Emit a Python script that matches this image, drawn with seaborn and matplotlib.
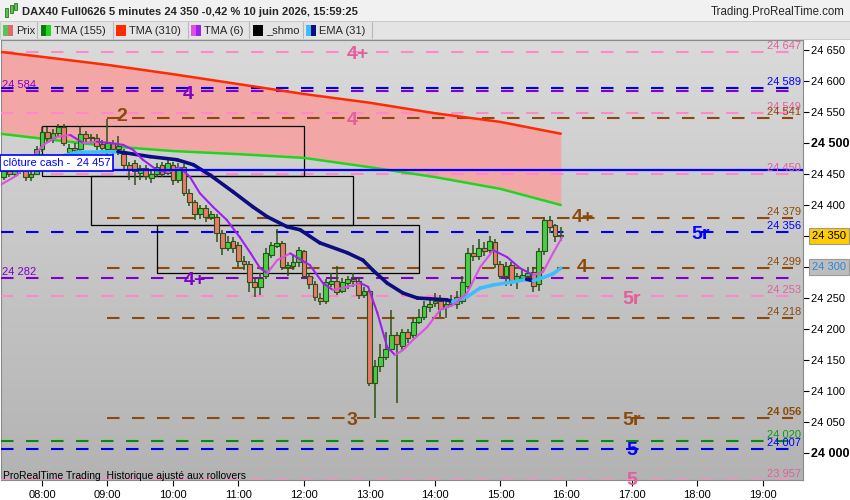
import numpy as np
import pandas as pd
import matplotlib
matplotlib.use("Agg")
import matplotlib.pyplot as plt
import seaborn as sns
from matplotlib.collections import LineCollection
from matplotlib.patches import Rectangle
from matplotlib.colors import LinearSegmentedColormap

sns.set_theme(style="white")
plt.rcParams['font.family'] = ['Liberation Sans', 'DejaVu Sans']

# ---------------- data ----------------
candle_times = pd.date_range("2026-06-10 07:25", "2026-06-10 15:55", freq="5min")
opens = [24445, 24455, 24450, 24462, 24458, 24445, 24450, 24490, 24518, 24508,
         24516, 24526, 24486, 24492, 24490, 24515, 24508, 24508, 24498, 24490,
         24500, 24490, 24482, 24465, 24467, 24452, 24460, 24443, 24450, 24465,
         24452, 24465, 24440, 24462, 24420, 24405, 24385, 24395, 24380, 24380,
         24355, 24330, 24342, 24335, 24310, 24305, 24275, 24268, 24285, 24320,
         24334, 24338, 24300, 24302, 24308, 24325, 24285, 24272, 24250, 24245,
         24272, 24277, 24262, 24274, 24280, 24278, 24255, 24262, 24113, 24140,
         24155, 24168, 24190, 24172, 24195, 24190, 24212, 24220, 24235, 24242,
         24245, 24235, 24240, 24240, 24245, 24270, 24322, 24318, 24330, 24328,
         24340, 24305, 24285, 24303, 24277, 24283, 24285, 24292, 24272, 24325,
         24375, 24367, 24350]
highs = [24462, 24465, 24470, 24475, 24462, 24458, 24495, 24525, 24525, 24522,
         24530, 24530, 24498, 24500, 24525, 24520, 24515, 24515, 24505, 24539,
         24505, 24512, 24490, 24470, 24472, 24465, 24465, 24455, 24468, 24470,
         24475, 24470, 24468, 24466, 24425, 24408, 24400, 24400, 24390, 24385,
         24360, 24350, 24348, 24340, 24318, 24310, 24280, 24290, 24330, 24340,
         24361, 24342, 24308, 24320, 24332, 24328, 24290, 24278, 24258, 24280,
         24290, 24302, 24282, 24285, 24290, 24282, 24268, 24265, 24150, 24175,
         24195, 24231, 24195, 24200, 24200, 24220, 24232, 24245, 24248, 24258,
         24255, 24250, 24255, 24262, 24285, 24330, 24335, 24345, 24340, 24350,
         24345, 24310, 24308, 24308, 24290, 24295, 24300, 24300, 24330, 24380,
         24382, 24370, 24365]
lows = [24440, 24445, 24445, 24450, 24438, 24438, 24448, 24485, 24502, 24500,
        24510, 24495, 24480, 24482, 24485, 24500, 24500, 24488, 24488, 24480,
        24480, 24480, 24455, 24440, 24432, 24440, 24440, 24435, 24445, 24445,
        24448, 24432, 24435, 24415, 24398, 24375, 24378, 24372, 24375, 24340,
        24320, 24325, 24322, 24300, 24295, 24260, 24252, 24255, 24280, 24315,
        24330, 24295, 24285, 24295, 24300, 24280, 24265, 24245, 24238, 24240,
        24268, 24255, 24258, 24265, 24268, 24248, 24250, 24108, 24056, 24130,
        24150, 24165, 24080, 24165, 24178, 24185, 24208, 24215, 24228, 24235,
        24220, 24218, 24235, 24232, 24240, 24265, 24310, 24312, 24318, 24322,
        24298, 24280, 24270, 24270, 24265, 24275, 24278, 24260, 24262, 24320,
        24355, 24340, 24342]
closes = [24455, 24450, 24462, 24458, 24445, 24450, 24490, 24518, 24508, 24516,
          24525, 24500, 24492, 24488, 24515, 24508, 24510, 24495, 24492, 24500,
          24490, 24495, 24465, 24458, 24455, 24460, 24447, 24450, 24462, 24450,
          24467, 24440, 24462, 24420, 24405, 24385, 24395, 24380, 24385, 24355,
          24330, 24340, 24330, 24310, 24305, 24275, 24268, 24282, 24322, 24335,
          24338, 24300, 24303, 24308, 24327, 24285, 24272, 24252, 24245, 24275,
          24277, 24260, 24275, 24280, 24278, 24255, 24262, 24113, 24140, 24155,
          24168, 24190, 24175, 24195, 24185, 24212, 24220, 24237, 24240, 24245,
          24232, 24240, 24245, 24252, 24275, 24322, 24318, 24330, 24325, 24342,
          24305, 24285, 24302, 24277, 24285, 24287, 24290, 24270, 24325, 24375,
          24365, 24350, 24350]

# moving averages, time in hours
ma_hours = [7.36, 8.0, 9.0, 10.0, 11.0, 12.0, 13.0, 14.0, 15.0, 15.92]
tma155 = [24515, 24507, 24495, 24487, 24482, 24476, 24461, 24445, 24426, 24400]
tma310 = [24647, 24639, 24626, 24611, 24595, 24579, 24565, 24548, 24534, 24515]

tma6_hours = [7.36, 7.62, 8.02, 8.23, 8.43, 8.63, 8.84, 9.04, 9.24, 9.39,
              9.54, 9.76, 9.91, 10.11, 10.26, 10.41, 10.61, 10.82, 11.02, 11.18,
              11.33, 11.44, 11.59, 11.79, 12.09, 12.29, 12.44, 12.66, 12.86, 12.98,
              13.12, 13.27, 13.39, 13.51, 13.66, 13.88, 14.08, 14.28, 14.49, 14.69,
              14.89, 15.10, 15.30, 15.50, 15.65, 15.80, 15.94]
tma6 = [24432, 24448, 24497, 24510, 24513, 24500, 24502, 24500, 24497, 24489,
        24473, 24456, 24453, 24460, 24445, 24419, 24397, 24376, 24348, 24323,
        24298, 24290, 24311, 24322, 24303, 24274, 24263, 24268, 24274, 24268,
        24226, 24171, 24158, 24166, 24182, 24203, 24231, 24239, 24258, 24300,
        24327, 24316, 24298, 24287, 24292, 24322, 24348]

ema_hours = [8.28, 8.53, 9.16, 9.65, 10.06, 10.31, 10.57, 10.92, 11.22, 11.44,
             11.74, 11.94, 12.24, 12.66, 12.90, 13.05, 13.27, 13.51, 13.73, 14.18,
             14.27, 14.49, 14.69, 14.89, 15.19, 15.40, 15.50, 15.65, 15.80, 15.92]
ema31 = [24478, 24485, 24486, 24478, 24473, 24465, 24448, 24421, 24397, 24381,
         24365, 24360, 24339, 24323, 24311, 24295, 24274, 24258, 24250, 24247,
         24244, 24252, 24266, 24271, 24276, 24280, 24278, 24283, 24289, 24298]

# horizontal levels
level_values = [24647, 24589, 24584, 24549, 24541, 24450, 24379, 24356, 24299,
                24282, 24253, 24218, 24056, 24020, 24007, 23957]
level_kinds = ['pink', 'blue', 'purple', 'pink', 'brown', 'pink', 'brown', 'blue',
               'brown', 'purple', 'pink', 'brown', 'brown', 'green', 'blue', 'pink']
left_labelled = [24584, 24282]

zone_texts = ["4+", "4", "4", "2", "4+", "5r", "4", "4+", "5r", "3", "5r", "5", "5"]
zone_kinds = ['pink', 'purple', 'pink', 'brown', 'brown', 'blue', 'brown', 'purple',
              'pink', 'brown', 'brown', 'blue', 'pink']
zone_hours = [12.82, 10.23, 12.73, 9.22, 16.26, 18.05, 16.24, 10.34, 17.0, 12.73, 17.0, 17.0, 17.0]
zone_levels = [24647, 24582, 24540, 24547, 24384, 24356, 24303, 24282, 24252, 24056, 24056, 24008, 23960]

# boxes (_shmo)
box_start = [8.0, 8.75, 9.75]
box_end = [12.0, 12.75, 13.75]
box_low = [24447, 24368, 24290]
box_high = [24527, 24447, 24368]

cash_close = 24457
last_price = 24350
ema_last_label = 24300

# ---------------- style ----------------
line_col = {'pink': '#ff88c8', 'brown': '#8b4a0b', 'blue': '#0000ee',
            'purple': '#7f00c8', 'green': '#0a8a0a'}
text_col = {'pink': '#e0609a', 'brown': '#8b4a0b', 'blue': '#0000ff',
            'purple': '#7f00c8', 'green': '#119911'}

W_PX, H_PX = 850, 500
def hx(px):
    return 8 + (px - 42) / 65.5
def vy(py):
    return 24000 + (453 - py) / 0.62

fig = plt.figure(figsize=(8.5, 5), dpi=100)
fig.patch.set_facecolor('white')
ax = fig.add_axes([1 / W_PX, 20 / H_PX, 802 / W_PX, 440 / H_PX])
x0, x1 = hx(1), hx(803)
y0, y1 = vy(480), vy(40)
ax.set_xlim(x0, x1)
ax.set_ylim(y0, y1)

# gradient background
cmap = LinearSegmentedColormap.from_list('bg', ['#dadada', '#b3b3b3'])
ax.imshow(np.linspace(0, 1, 256).reshape(-1, 1), extent=[x0, x1, y0, y1],
          aspect='auto', cmap=cmap, origin='upper', zorder=0)

# MA band
ma_df = pd.DataFrame({'h': ma_hours, 'tma155': tma155, 'tma310': tma310})
ax.fill_between(ma_df['h'], ma_df['tma155'], ma_df['tma310'], color='#f2a6a6', lw=0, zorder=1)
sns.lineplot(data=ma_df, x='h', y='tma310', color='#ff2a00', lw=1.8, ax=ax, zorder=5)
sns.lineplot(data=ma_df, x='h', y='tma155', color='#1fd61f', lw=1.8, ax=ax, zorder=5)

# levels
for v, k in zip(level_values, level_kinds):
    start = 9.0 if k == 'brown' else x0
    ax.plot([start, hx(793)], [v, v], color=line_col[k], lw=1.5,
            dashes=(6, 6), zorder=3)
    lab = f"{v // 1000} {v % 1000:03d}"
    if v in left_labelled:
        ax.text(hx(2), v + 4.5, lab, color=text_col[k], fontsize=8,
                ha='left', va='baseline', zorder=8)
    else:
        ax.text(hx(801), v + 4.5, lab, color=text_col[k], fontsize=8,
                ha='right', va='baseline', zorder=8,
                fontweight='bold' if v == 24056 else 'normal')

for t, k, h, v in zip(zone_texts, zone_kinds, zone_hours, zone_levels):
    ax.text(h, v - 4, t, color=text_col[k], fontsize=14, fontweight='bold',
            ha='center', va='center', zorder=8)

# boxes
for s, e, lo, hi in zip(box_start, box_end, box_low, box_high):
    ax.add_patch(Rectangle((s, lo), e - s, hi - lo, fill=False, ec='black', lw=0.9, zorder=4))

# candles
ch = candle_times.hour + candle_times.minute / 60
o = np.array(opens); c = np.array(closes); hi = np.array(highs); lo = np.array(lows)
ax.vlines(ch, lo, hi, color='#2a5216', lw=1.1, zorder=6)
up = c >= o
body_w = 4.8 / 65.5
bottoms = np.minimum(o, c)
heights = np.maximum(np.abs(c - o), 1.5)
ax.bar(ch[up], heights[up], bottom=bottoms[up], width=body_w, color='#46cf46',
       edgecolor='#2a5216', lw=0.8, zorder=6)
ax.bar(ch[~up], heights[~up], bottom=bottoms[~up], width=body_w, color='#ea7a6c',
       edgecolor='#2a5216', lw=0.8, zorder=6)

# two-colour lines
def slope_line(xs, ys, c_up, c_dn, lw, z):
    xs = np.asarray(xs); ys = np.asarray(ys)
    segs = [[(xs[i], ys[i]), (xs[i + 1], ys[i + 1])] for i in range(len(xs) - 1)]
    cols = [c_up if ys[i + 1] >= ys[i] else c_dn for i in range(len(xs) - 1)]
    lc = LineCollection(segs, colors=cols, linewidths=lw, capstyle='round',
                        joinstyle='round', zorder=z)
    ax.add_collection(lc)

slope_line(ema_hours, ema31, '#40bbff', '#0d0d80', 2.6, 7)
slope_line(tma6_hours, tma6, '#dd4fe6', '#9d20f0', 1.5, 7)

# cash close line and label
ax.axhline(cash_close, color='#0000ff', lw=1.6, zorder=7)
ax.text(hx(3), vy(163), "clôture cash -  24 457", color='#0000ff', fontsize=8,
        ha='left', va='center', zorder=9,
        bbox=dict(boxstyle='square,pad=0.25', fc='white', ec='#0000ff', lw=1.2))

ax.text(hx(3), vy(476), "ProRealTime Trading  Historique ajusté aux rollovers",
        fontsize=7.5, color='black', ha='left', va='center', zorder=9)

# axes
ax.yaxis.tick_right()
yt = list(range(24000, 24651, 50))
ax.set_yticks(yt)
ylabels = []
for v in yt:
    if v in (last_price, ema_last_label):
        ylabels.append('')
    else:
        ylabels.append(f"{v // 1000} {v % 1000:03d}")
ax.set_yticklabels(ylabels)
ax.tick_params(axis='y', which='major', direction='out', length=4, width=0.8,
               pad=2, labelsize=8, colors='black', right=True, left=False)
for v, lab in zip(yt, ax.get_yticklabels()):
    if v in (24000, 24500):
        lab.set_fontweight('bold')
        lab.set_fontsize(9)
for v, tk in zip(yt, ax.yaxis.get_major_ticks()):
    if v == ema_last_label:
        tk.tick2line.set_color('#40bbff')

ax.set_xticks(range(8, 20))
ax.set_xticklabels([f"{h:02d}:00" for h in range(8, 20)])
ax.tick_params(axis='x', direction='out', length=4, width=0.8, pad=3,
               labelsize=8, colors='black', bottom=True)
ax.set_xlabel(''); ax.set_ylabel('')
for sp in ax.spines.values():
    sp.set_color('#8a8a8a'); sp.set_linewidth(0.8)

# price boxes on the right axis
ytr = ax.get_yaxis_transform()
ax.text(1 + 9 / 802, last_price, "24 350", transform=ytr, fontsize=8, color='black',
        ha='left', va='center', zorder=10, clip_on=False,
        bbox=dict(boxstyle='square,pad=0.25', fc='#ffcc00', ec='#9a9a9a', lw=0.8))
ax.text(1 + 9 / 802, ema_last_label, "24 300", transform=ytr, fontsize=8, color='#2a8ad6',
        ha='left', va='center', zorder=10, clip_on=False,
        bbox=dict(boxstyle='square,pad=0.25', fc='#bdbdbd', ec='#9a9a9a', lw=0.8))

# ---------------- header ----------------
def frect(x, y, w, h, **kw):
    fig.add_artist(Rectangle((x / W_PX, 1 - (y + h) / H_PX), w / W_PX, h / H_PX,
                             transform=fig.transFigure, **kw))

frect(0, 0, 850, 21, fc='#f1f1f1', ec='none')
frect(0, 21, 850, 18, fc='#e4e4e4', ec='#c4c4c4', lw=0.6)
# small candle icon
frect(5, 8, 3, 9, fc='#46cf46', ec='#2a5216', lw=0.5)
frect(10, 5, 3, 8, fc='#46cf46', ec='#2a5216', lw=0.5)
frect(14, 3, 3, 7, fc='#46cf46', ec='#2a5216', lw=0.5)
fig.text(22 / W_PX, 1 - 12 / H_PX, "DAX40 Full0626 5 minutes 24 350 -0,42 % 10 juin 2026, 15:59:25",
         fontsize=8, fontweight='bold', ha='left', va='center')
fig.text(845 / W_PX, 1 - 12 / H_PX, "Trading.ProRealTime.com", fontsize=8.3,
         ha='right', va='center')

legend_names = ["Prix", "TMA (155)", "TMA (310)", "TMA (6)", "_shmo", "EMA (31)"]
legend_cols = [('#58c458', '#e06a6a'), ('#0a7a0a', '#1fd61f'), ('#ff2a00', '#ff2a00'),
               ('#dd4fe6', '#9d20f0'), ('#000000', '#000000'), ('#40bbff', '#0d0d80')]
icon_x = [3, 41, 116, 191, 253, 306]
sep_x = [37, 113, 188, 249, 303, 372]
for name, (ca, cb), ix in zip(legend_names, legend_cols, icon_x):
    frect(ix, 25, 5, 11, fc=ca, ec='none')
    frect(ix + 5, 25, 5, 11, fc=cb, ec='none')
    fig.text((ix + 13) / W_PX, 1 - 30.5 / H_PX, name, fontsize=8, ha='left', va='center')
for sx in sep_x:
    fig.add_artist(plt.Line2D([sx / W_PX, sx / W_PX], [1 - 22 / H_PX, 1 - 38 / H_PX],
                              transform=fig.transFigure, color='#b8b8b8', lw=0.8))

fig.savefig("out.png", dpi=100, facecolor='white')
